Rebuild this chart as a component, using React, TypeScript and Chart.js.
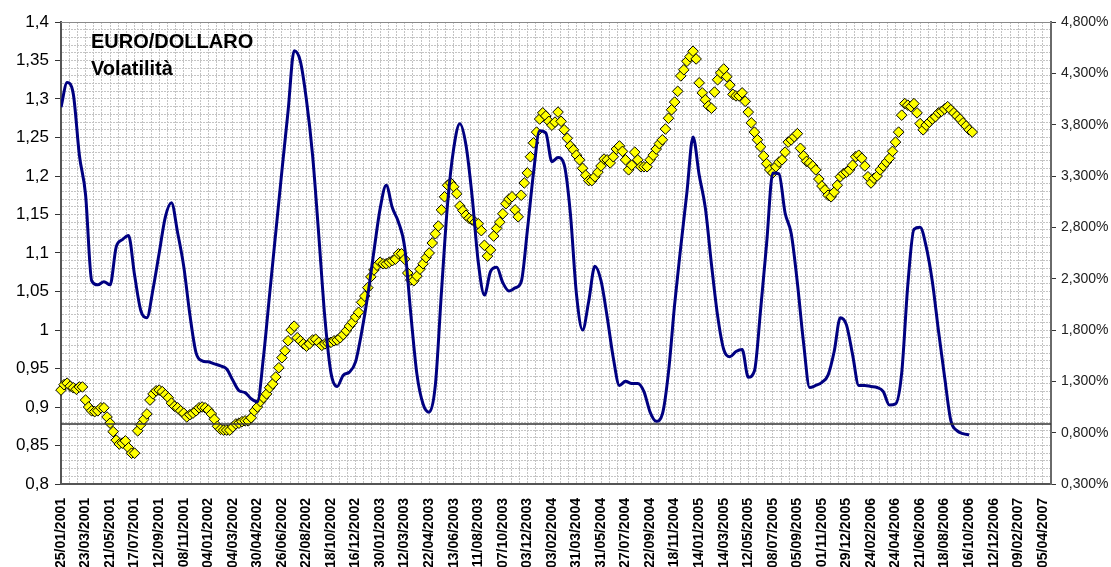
import React, { useEffect, useRef } from 'react';
import { Chart, registerables } from 'chart.js';

Chart.register(...registerables);

// Category labels shown on the x axis (one every interval)
const DATES = [
  '25/01/2001', '23/03/2001', '21/05/2001', '17/07/2001', '12/09/2001', '08/11/2001',
  '04/01/2002', '04/03/2002', '30/04/2002', '26/06/2002', '22/08/2002', '18/10/2002',
  '16/12/2002', '30/01/2003', '12/03/2003', '22/04/2003', '13/06/2003', '11/08/2003',
  '07/10/2003', '03/12/2003', '03/02/2004', '31/03/2004', '31/05/2004', '27/07/2004',
  '22/09/2004', '18/11/2004', '14/01/2005', '14/03/2005', '12/05/2005', '08/07/2005',
  '05/09/2005', '01/11/2005', '29/12/2005', '24/02/2006', '24/04/2006', '21/06/2006',
  '18/08/2006', '16/10/2006', '12/12/2006', '09/02/2007', '05/04/2007',
];

// samples per labelled interval
const EURUSD_PER_INTERVAL = 8;
const VOL_PER_INTERVAL = 4;

// EURO/DOLLARO exchange rate (left axis)
const EURUSD = [
  0.922, 0.929, 0.931, 0.927, 0.925, 0.923, 0.926, 0.926, 0.909, 0.900,
  0.895, 0.894, 0.895, 0.899, 0.899, 0.887, 0.879, 0.868, 0.857, 0.852,
  0.853, 0.856, 0.847, 0.840, 0.840, 0.869, 0.877, 0.884, 0.891, 0.909,
  0.917, 0.921, 0.922, 0.920, 0.916, 0.912, 0.905, 0.901, 0.899, 0.895,
  0.892, 0.887, 0.890, 0.892, 0.895, 0.899, 0.900, 0.899, 0.896, 0.891,
  0.884, 0.875, 0.871, 0.870, 0.870, 0.870, 0.874, 0.878, 0.879, 0.881,
  0.882, 0.882, 0.886, 0.895, 0.900, 0.907, 0.912, 0.917, 0.925, 0.930,
  0.939, 0.951, 0.964, 0.973, 0.986, 1.000, 1.005, 0.990, 0.986, 0.982,
  0.979, 0.982, 0.987, 0.988, 0.984, 0.980, 0.982, 0.983, 0.984, 0.986,
  0.987, 0.990, 0.994, 0.999, 1.005, 1.010, 1.017, 1.023, 1.036, 1.044,
  1.055, 1.069, 1.078, 1.084, 1.088, 1.086, 1.086, 1.088, 1.090, 1.092,
  1.099, 1.099, 1.092, 1.074, 1.065, 1.064, 1.070, 1.079, 1.086, 1.094,
  1.100, 1.113, 1.125, 1.135, 1.156, 1.173, 1.188, 1.191, 1.186, 1.177,
  1.161, 1.155, 1.149, 1.145, 1.143, 1.140, 1.138, 1.129, 1.110, 1.096,
  1.104, 1.122, 1.132, 1.140, 1.151, 1.164, 1.170, 1.173, 1.156, 1.147,
  1.175, 1.191, 1.204, 1.225, 1.243, 1.257, 1.274, 1.282, 1.278, 1.271,
  1.266, 1.270, 1.283, 1.271, 1.260, 1.249, 1.239, 1.234, 1.227, 1.221,
  1.210, 1.201, 1.194, 1.194, 1.199, 1.205, 1.213, 1.222, 1.221, 1.217,
  1.225, 1.235, 1.239, 1.232, 1.221, 1.208, 1.214, 1.231, 1.221, 1.212,
  1.212, 1.212, 1.221, 1.227, 1.235, 1.242, 1.247, 1.261, 1.275, 1.286,
  1.296, 1.310, 1.330, 1.338, 1.349, 1.355, 1.362, 1.352, 1.321, 1.308,
  1.299, 1.291, 1.288, 1.309, 1.325, 1.334, 1.339, 1.329, 1.318, 1.306,
  1.304, 1.304, 1.308, 1.297, 1.283, 1.269, 1.257, 1.247, 1.238, 1.226,
  1.216, 1.208, 1.204, 1.212, 1.218, 1.221, 1.231, 1.244, 1.247, 1.251,
  1.255, 1.236, 1.226, 1.219, 1.217, 1.213, 1.208, 1.196, 1.187, 1.182,
  1.175, 1.173, 1.179, 1.188, 1.199, 1.203, 1.205, 1.208, 1.214, 1.225,
  1.227, 1.223, 1.213, 1.199, 1.191, 1.197, 1.200, 1.208, 1.213, 1.218,
  1.223, 1.232, 1.244, 1.257, 1.279, 1.294, 1.292, 1.290, 1.294, 1.282,
  1.268, 1.260, 1.266, 1.270, 1.274, 1.277, 1.282, 1.284, 1.287, 1.290,
  1.286, 1.282, 1.278, 1.274, 1.269, 1.265, 1.260, 1.257,
];

// Volatilità in % (right axis)
const VOLATILITY = [
  3.97, 4.21, 4.10, 3.50, 3.12, 2.28, 2.24, 2.27, 2.24, 2.61,
  2.68, 2.72, 2.33, 1.99, 1.92, 2.20, 2.55, 2.90, 3.04, 2.75,
  2.42, 1.95, 1.58, 1.50, 1.49, 1.47, 1.45, 1.42, 1.31, 1.21,
  1.19, 1.13, 1.10, 1.54, 2.15, 2.75, 3.35, 3.93, 4.52, 4.42,
  4.04, 3.50, 2.73, 1.92, 1.38, 1.25, 1.36, 1.39, 1.49, 1.78,
  2.14, 2.57, 2.98, 3.21, 2.99, 2.85, 2.61, 1.96, 1.37, 1.08,
  1.00, 1.26, 2.17, 3.03, 3.57, 3.81, 3.60, 3.10, 2.46, 2.14,
  2.37, 2.41, 2.26, 2.18, 2.21, 2.27, 2.77, 3.33, 3.74, 3.72,
  3.44, 3.48, 3.41, 2.94, 2.15, 1.80, 2.08, 2.42, 2.28, 1.93,
  1.53, 1.26, 1.30, 1.28, 1.28, 1.20, 1.00, 0.91, 0.98, 1.39,
  2.05, 2.61, 3.14, 3.68, 3.31, 2.99, 2.44, 1.94, 1.61, 1.54,
  1.59, 1.61, 1.34, 1.40, 1.99, 2.65, 3.33, 3.32, 2.94, 2.74,
  2.26, 1.68, 1.24, 1.26, 1.29, 1.36, 1.59, 1.92, 1.85, 1.56,
  1.26, 1.26, 1.25, 1.24, 1.20, 1.07, 1.08, 1.38, 2.24, 2.78,
  2.80, 2.61, 2.27, 1.79, 1.34, 0.92, 0.82, 0.79, 0.78,
];

const THRESHOLD = 0.878;
const LEFT_MIN = 0.8;
const LEFT_MAX = 1.4;
const LEFT_MAJOR = 0.05;
const LEFT_MINOR = 0.01;
const RIGHT_MIN = 0.3;
const RIGHT_MAX = 4.8;
const RIGHT_STEP = 0.5;
const X_GRID_STEP = 1 / 3;
const X_MAX = DATES.length - 1 + X_GRID_STEP;
const TITLE_LINES = ['EURO/DOLLARO', 'Volatilità'];

const FONT = '"Liberation Sans", Arial, sans-serif';
const GRID_COLOR = '#c4c4c4';
const GRID_DASH = [2, 1];

export default function App() {
  const canvasRef = useRef<HTMLCanvasElement>(null);

  useEffect(() => {
    const canvas = canvasRef.current;
    if (!canvas) return;

    const toPoints = (arr: number[], per: number) =>
      arr.map((v, i) => ({ x: i / per, y: v }));
    const isMajor = (v: number) =>
      Math.abs(v / LEFT_MAJOR - Math.round(v / LEFT_MAJOR)) < 1e-6;

    const decorPlugin = {
      id: 'decor',
      afterDraw(chart: any) {
        const { ctx, chartArea } = chart;
        ctx.save();
        ctx.strokeStyle = '#8a8a8a';
        ctx.lineWidth = 1;
        ctx.beginPath();
        ctx.moveTo(chartArea.left, chartArea.top + 0.5);
        ctx.lineTo(chartArea.right, chartArea.top + 0.5);
        ctx.stroke();
        ctx.font = `bold 20px ${FONT}`;
        ctx.fillStyle = '#000';
        ctx.textBaseline = 'alphabetic';
        TITLE_LINES.forEach((t, i) => {
          ctx.fillText(t, chartArea.left + 30, chartArea.top + 26 + i * 27);
        });
        ctx.restore();
      },
    };

    const chart = new Chart(canvas, {
      type: 'line',
      data: {
        datasets: [
          {
            label: 'soglia',
            data: [
              { x: 0, y: THRESHOLD },
              { x: X_MAX, y: THRESHOLD },
            ],
            yAxisID: 'y',
            borderColor: '#333333',
            borderWidth: 1.5,
            pointRadius: 0,
          },
          {
            label: 'Volatilità',
            data: toPoints(VOLATILITY, VOL_PER_INTERVAL),
            yAxisID: 'y1',
            borderColor: '#000080',
            borderWidth: 3,
            pointRadius: 0,
            cubicInterpolationMode: 'monotone',
          },
          {
            label: 'EURO/DOLLARO',
            data: toPoints(EURUSD, EURUSD_PER_INTERVAL),
            yAxisID: 'y',
            showLine: false,
            pointStyle: 'rectRot',
            pointRadius: 5.3,
            pointBorderWidth: 1,
            pointBackgroundColor: '#ffff00',
            pointBorderColor: '#000000',
            clip: false,
          },
        ],
      },
      options: {
        responsive: false,
        animation: false,
        events: [],
        layout: { padding: { top: 22, left: 0, right: 0, bottom: 0 } },
        plugins: {
          legend: { display: false },
          tooltip: { enabled: false },
        },
        scales: {
          x: {
            type: 'linear',
            min: 0,
            max: X_MAX,
            afterFit: (s: any) => {
              s.height = 83;
            },
            grid: {
              color: GRID_COLOR,
              drawTicks: false,
            },
            border: { color: '#555555', width: 2, dash: GRID_DASH },
            ticks: {
              stepSize: X_GRID_STEP,
              autoSkip: false,
              maxRotation: 90,
              minRotation: 90,
              padding: 14,
              color: '#000',
              font: { family: FONT, size: 14, weight: 'bold' },
              callback: (v: any) => {
                const n = Number(v);
                const r = Math.round(n);
                return Math.abs(n - r) < 1e-6 && r >= 0 && r < DATES.length ? DATES[r] : '';
              },
            },
          },
          y: {
            type: 'linear',
            position: 'left',
            min: LEFT_MIN,
            max: LEFT_MAX,
            afterFit: (s: any) => {
              s.width = 61;
            },
            grid: {
              color: GRID_COLOR,
              tickLength: 6,
              tickColor: (ctx: any) =>
                ctx.tick && isMajor(ctx.tick.value) ? '#333' : 'rgba(0,0,0,0)',
            },
            border: { color: '#555555', width: 2, dash: GRID_DASH },
            ticks: {
              stepSize: LEFT_MINOR,
              autoSkip: false,
              padding: 6,
              color: '#000',
              font: { family: FONT, size: 17 },
              callback: (v: any) => {
                const n = Number(v);
                return isMajor(n) ? String(Math.round(n * 100) / 100).replace('.', ',') : '';
              },
            },
          },
          y1: {
            type: 'linear',
            position: 'right',
            min: RIGHT_MIN,
            max: RIGHT_MAX,
            afterFit: (s: any) => {
              s.width = 60;
            },
            grid: {
              drawOnChartArea: false,
              tickLength: 5,
              tickColor: '#333',
            },
            border: { color: '#6a6a6a', width: 2 },
            ticks: {
              stepSize: RIGHT_STEP,
              padding: 5,
              color: '#222',
              font: { family: FONT, size: 14 },
              callback: (v: any) => Number(v).toFixed(3).replace('.', ',') + '%',
            },
          },
        },
      },
      plugins: [decorPlugin],
    } as any);

    return () => chart.destroy();
  }, []);

  return (
    <div
      style={{
        position: 'fixed',
        left: 0,
        top: 0,
        width: 1111,
        height: 567,
        background: '#ffffff',
        overflow: 'hidden',
      }}
    >
      <canvas ref={canvasRef} width={1111} height={567} style={{ display: 'block' }} />
    </div>
  );
}
